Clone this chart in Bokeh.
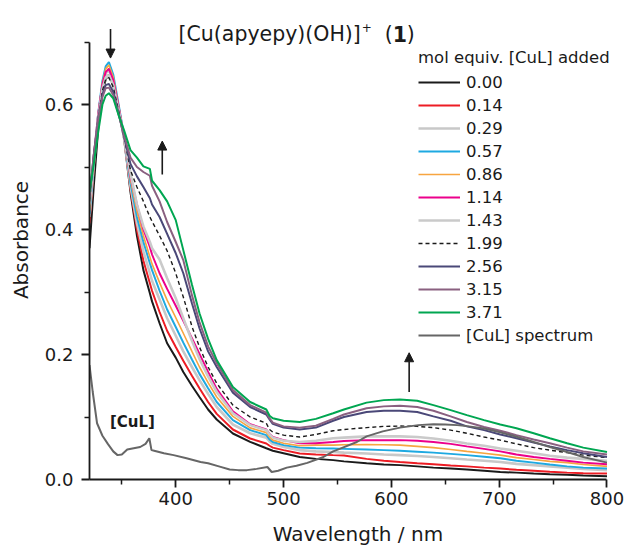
from bokeh.plotting import figure
from bokeh.models import (FixedTicker, NumeralTickFormatter, Legend, LegendItem,
                          Label, Arrow, NormalHead)
from bokeh.embed import file_html
from bokeh.resources import INLINE

FONT = "DejaVu Sans"

# ---------------- data ----------------
wl = [320, 324, 328, 332, 335, 338, 342, 347, 352, 358, 364, 370, 376, 378, 385, 392,
      400, 407, 415, 422, 430, 438, 453, 469, 484, 487, 490, 500, 515, 530, 546, 556,
      577, 593, 608, 624, 639, 655, 670, 686, 701, 716, 732, 747, 763, 778, 800]

eq_000 = [0.370, 0.470, 0.560, 0.618, 0.640, 0.648, 0.630, 0.590, 0.546, 0.460, 0.390, 0.335, 0.298, 0.285, 0.250, 0.218,
          0.195, 0.172, 0.150, 0.132, 0.112, 0.096, 0.0736, 0.0603, 0.050, 0.048, 0.046, 0.042, 0.036, 0.033, 0.031, 0.029,
          0.026, 0.024, 0.023, 0.021, 0.019, 0.0175, 0.016, 0.014, 0.012, 0.011, 0.0096, 0.0085, 0.0075, 0.0065, 0.0053]
eq_014 = [0.410, 0.500, 0.575, 0.628, 0.650, 0.657, 0.638, 0.594, 0.547, 0.465, 0.400, 0.350, 0.314, 0.302, 0.268, 0.238,
          0.212, 0.190, 0.166, 0.146, 0.124, 0.105, 0.080, 0.0656, 0.0576, 0.054, 0.051, 0.047, 0.0416, 0.040, 0.039, 0.0385,
          0.033, 0.030, 0.028, 0.026, 0.0245, 0.0225, 0.021, 0.019, 0.0176, 0.0155, 0.014, 0.0125, 0.011, 0.010, 0.0096]
eq_029 = [0.420, 0.505, 0.578, 0.630, 0.650, 0.655, 0.637, 0.594, 0.547, 0.470, 0.410, 0.365, 0.330, 0.318, 0.288, 0.258,
          0.230, 0.205, 0.180, 0.159, 0.137, 0.116, 0.088, 0.074, 0.067, 0.061, 0.057, 0.052, 0.047, 0.045, 0.044, 0.043,
          0.0415, 0.040, 0.039, 0.0375, 0.036, 0.034, 0.032, 0.030, 0.028, 0.025, 0.023, 0.021, 0.019, 0.017, 0.015]
eq_057 = [0.425, 0.510, 0.585, 0.638, 0.661, 0.668, 0.648, 0.600, 0.550, 0.475, 0.420, 0.380, 0.346, 0.335, 0.302, 0.272,
          0.244, 0.219, 0.192, 0.169, 0.146, 0.124, 0.095, 0.079, 0.071, 0.064, 0.060, 0.055, 0.051, 0.050, 0.0495, 0.049,
          0.048, 0.047, 0.046, 0.0445, 0.043, 0.041, 0.039, 0.0365, 0.034, 0.030, 0.027, 0.024, 0.021, 0.019, 0.0176]
eq_086 = [0.430, 0.512, 0.584, 0.635, 0.657, 0.663, 0.644, 0.598, 0.549, 0.480, 0.430, 0.390, 0.356, 0.345, 0.315, 0.287,
          0.259, 0.234, 0.205, 0.180, 0.155, 0.132, 0.101, 0.0826, 0.075, 0.068, 0.063, 0.058, 0.054, 0.055, 0.055, 0.0555,
          0.056, 0.0555, 0.055, 0.053, 0.051, 0.048, 0.045, 0.042, 0.039, 0.035, 0.032, 0.029, 0.027, 0.024, 0.021]
eq_114 = [0.443, 0.518, 0.584, 0.632, 0.652, 0.657, 0.639, 0.596, 0.549, 0.485, 0.440, 0.400, 0.372, 0.360, 0.330, 0.305,
          0.278, 0.254, 0.226, 0.201, 0.172, 0.145, 0.109, 0.0885, 0.080, 0.073, 0.068, 0.063, 0.058, 0.058, 0.060, 0.0615,
          0.063, 0.063, 0.063, 0.062, 0.060, 0.057, 0.053, 0.049, 0.045, 0.040, 0.036, 0.033, 0.030, 0.027, 0.0245]
eq_143 = [0.440, 0.515, 0.578, 0.625, 0.643, 0.647, 0.631, 0.591, 0.548, 0.490, 0.440, 0.405, 0.380, 0.370, 0.352, 0.322,
          0.290, 0.258, 0.222, 0.193, 0.165, 0.140, 0.106, 0.087, 0.079, 0.072, 0.067, 0.062, 0.060, 0.062, 0.066, 0.067,
          0.069, 0.069, 0.069, 0.068, 0.0656, 0.062, 0.0576, 0.054, 0.0496, 0.046, 0.042, 0.038, 0.035, 0.033, 0.030]
eq_199 = [0.445, 0.518, 0.578, 0.622, 0.640, 0.643, 0.628, 0.590, 0.549, 0.495, 0.468, 0.445, 0.420, 0.413, 0.390, 0.366,
          0.330, 0.292, 0.245, 0.212, 0.180, 0.154, 0.119, 0.100, 0.090, 0.080, 0.076, 0.071, 0.068, 0.072, 0.078, 0.080,
          0.083, 0.085, 0.0855, 0.085, 0.083, 0.079, 0.074, 0.068, 0.063, 0.057, 0.051, 0.047, 0.043, 0.039, 0.035]
eq_256 = [0.450, 0.520, 0.576, 0.616, 0.631, 0.633, 0.620, 0.586, 0.549, 0.505, 0.485, 0.468, 0.450, 0.440, 0.420, 0.393,
          0.362, 0.330, 0.282, 0.242, 0.205, 0.180, 0.139, 0.116, 0.104, 0.096, 0.089, 0.083, 0.080, 0.083, 0.094, 0.100,
          0.108, 0.110, 0.110, 0.108, 0.101, 0.094, 0.085, 0.079, 0.072, 0.066, 0.059, 0.053, 0.047, 0.042, 0.036]
eq_315 = [0.452, 0.520, 0.575, 0.612, 0.626, 0.627, 0.615, 0.584, 0.551, 0.515, 0.500, 0.492, 0.486, 0.470, 0.445, 0.412,
          0.380, 0.351, 0.295, 0.252, 0.213, 0.186, 0.143, 0.119, 0.107, 0.098, 0.091, 0.085, 0.083, 0.086, 0.097, 0.104,
          0.114, 0.117, 0.118, 0.116, 0.110, 0.101, 0.092, 0.084, 0.078, 0.071, 0.064, 0.058, 0.051, 0.045, 0.040]
eq_371 = [0.460, 0.505, 0.555, 0.600, 0.614, 0.618, 0.610, 0.583, 0.559, 0.527, 0.515, 0.501, 0.497, 0.478, 0.463, 0.445,
          0.415, 0.367, 0.312, 0.266, 0.225, 0.191, 0.148, 0.124, 0.112, 0.102, 0.098, 0.094, 0.092, 0.097, 0.106, 0.112,
          0.123, 0.127, 0.128, 0.126, 0.119, 0.111, 0.103, 0.095, 0.088, 0.082, 0.074, 0.066, 0.058, 0.051, 0.044]

cul_wl = [320, 323, 327, 332, 337, 342, 346, 350, 355, 361, 367, 372, 375.5, 377.5, 380, 389, 398, 410, 423, 430,
          440, 450, 458, 466, 475, 485, 489, 495, 503, 512, 522, 537, 546, 552, 568, 577, 592, 608, 625, 639,
          650, 661, 672, 686, 700, 717, 732, 747, 763, 778, 800]
cul_abs = [0.183, 0.140, 0.090, 0.070, 0.057, 0.045, 0.039, 0.040, 0.048, 0.050, 0.052, 0.057, 0.066, 0.047, 0.046,
           0.042, 0.039, 0.034, 0.028, 0.026, 0.021, 0.016, 0.015, 0.015, 0.017, 0.020, 0.012, 0.014, 0.019, 0.022,
           0.0266, 0.036, 0.045, 0.049, 0.060, 0.069, 0.077, 0.083, 0.087, 0.0885, 0.088, 0.087, 0.085, 0.0816,
           0.076, 0.068, 0.060, 0.052, 0.044, 0.036, 0.027]

labels = ["0.00", "0.14", "0.29", "0.57", "0.86", "1.14", "1.43", "1.99", "2.56", "3.15", "3.71"]
series = [eq_000, eq_014, eq_029, eq_057, eq_086, eq_114, eq_143, eq_199, eq_256, eq_315, eq_371]
colors = ["#1a1a1a", "#ed1c24", "#c8c8c8", "#1ea9e1", "#f7a540", "#ec008c", "#cacaca",
          "#1a1a1a", "#4a4878", "#8a6080", "#00a651"]
widths = [2, 2, 2.6, 2, 1.6, 2, 2.6, 1.4, 2, 2, 2]
dashes = ["solid"] * 7 + ["4 3"] + ["solid"] * 3

x_major = [400, 500, 600, 700, 800]
x_minor = [350, 450, 550, 650, 750]
y_major = [0.0, 0.2, 0.4, 0.6]
y_minor = [0.1, 0.3, 0.5, 0.7]

# ---------------- figure ----------------
# frame is extended to the top and right edges so the title, arrows and legend
# are not clipped; the axes themselves are bounded to 320-800 nm and 0-0.7
p = figure(width=626, height=551, x_range=(320, 818.1), y_range=(0, 0.7664),
           min_border_left=89, min_border_right=0, min_border_top=0, min_border_bottom=72,
           toolbar_location=None, output_backend="svg", title=None)
p.outline_line_color = None
p.xgrid.visible = False
p.ygrid.visible = False
p.background_fill_color = "white"

items = []
for lab, ys, c, w, d in zip(labels, series, colors, widths, dashes):
    r = p.line(wl, ys, line_color=c, line_width=w, line_dash=d)
    items.append(LegendItem(label=lab, renderers=[r]))
rc = p.line(cul_wl, cul_abs, line_color="#666666", line_width=2)
items.append(LegendItem(label="[CuL] spectrum", renderers=[rc]))

for ax in (p.xaxis[0], p.yaxis[0]):
    ax.axis_line_width = 1.8
    ax.axis_line_color = "#1a1a1a"
    ax.major_tick_line_width = 1.8
    ax.minor_tick_line_width = 1.5
    ax.major_tick_line_color = "#1a1a1a"
    ax.minor_tick_line_color = "#1a1a1a"
    ax.major_tick_out = 8
    ax.major_tick_in = 0
    ax.minor_tick_out = 5
    ax.minor_tick_in = 0
    ax.major_label_text_font = FONT
    ax.major_label_text_font_size = "18px"
    ax.major_label_text_color = "#1a1a1a"
    ax.axis_label_text_font = FONT
    ax.axis_label_text_font_size = "20px"
    ax.axis_label_text_font_style = "normal"
    ax.axis_label_text_color = "#1a1a1a"

p.xaxis.bounds = (320, 800)
p.yaxis.bounds = (0, 0.7)
p.xaxis.ticker = FixedTicker(ticks=x_major, minor_ticks=x_minor)
p.yaxis.ticker = FixedTicker(ticks=y_major, minor_ticks=y_minor)
p.xaxis.formatter = NumeralTickFormatter(format="0")
p.yaxis.formatter = NumeralTickFormatter(format="0.0")
p.xaxis.axis_label = "Wavelength / nm"
p.yaxis.axis_label = "Absorbance"
p.xaxis.major_label_standoff = 4
p.xaxis.axis_label_standoff = 14
p.yaxis.major_label_standoff = 8
p.yaxis.axis_label_standoff = 9

legend = Legend(items=items, location=(329, 134), padding=0, margin=0,
                border_line_color=None, background_fill_alpha=0,
                title="mol equiv. [CuL] added", title_text_font=FONT,
                title_text_font_size="16.5px", title_text_font_style="normal",
                title_text_color="#1a1a1a", title_standoff=5,
                label_text_font=FONT, label_text_font_size="16.5px",
                label_text_color="#1a1a1a", label_standoff=6,
                glyph_width=42, glyph_height=20, label_height=20, spacing=3)
p.add_layout(legend)

# ---------------- title & annotations ----------------
ty = 0.7125
p.add_layout(Label(x=402.6, y=ty, text="[Cu(apyepy)(OH)]", text_font=FONT,
                   text_font_size="20.5px", text_color="#1a1a1a", text_baseline="alphabetic"))
p.add_layout(Label(x=572.6, y=0.7235, text="+", text_font=FONT,
                   text_font_size="12px", text_color="#1a1a1a", text_baseline="alphabetic"))
p.add_layout(Label(x=593.9, y=ty, text="(", text_font=FONT,
                   text_font_size="20.5px", text_color="#1a1a1a", text_baseline="alphabetic"))
p.add_layout(Label(x=601.3, y=ty, text="1", text_font=FONT, text_font_style="bold",
                   text_font_size="20.5px", text_color="#1a1a1a", text_baseline="alphabetic"))
p.add_layout(Label(x=614.3, y=ty, text=")", text_font=FONT,
                   text_font_size="20.5px", text_color="#1a1a1a", text_baseline="alphabetic"))

p.add_layout(Label(x=339, y=0.092, text="[CuL]", text_font=FONT, text_font_style="bold",
                   text_font_size="15px", text_color="#1a1a1a", text_baseline="middle"))

for xs, ys, xe, ye in [(339.5, 0.7208, 339.5, 0.6743),
                       (387.5, 0.488, 387.5, 0.5415),
                       (616.5, 0.140, 616.5, 0.2028)]:
    p.add_layout(Arrow(end=NormalHead(size=9, fill_color="#1a1a1a", line_color="#1a1a1a", line_width=1),
                       x_start=xs, y_start=ys, x_end=xe, y_end=ye,
                       line_width=1.6, line_color="#1a1a1a"))

open("out.html", "w").write(file_html(p, INLINE))
